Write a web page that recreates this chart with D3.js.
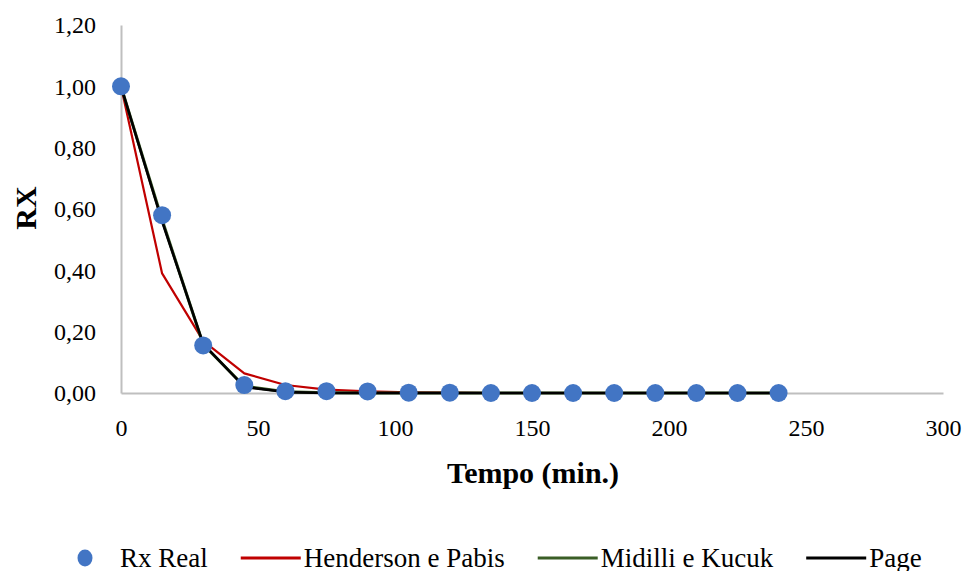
<!DOCTYPE html>
<html>
<head>
<meta charset="utf-8">
<script src="https://cdn.jsdelivr.net/npm/d3@7"></script>
<style>
  html, body { margin: 0; padding: 0; background: #fff; }
  svg text { font-family: "Liberation Serif", "Times New Roman", Times, "DejaVu Serif", serif !important; }
</style>
</head>
<body>
<svg id="chart" width="968" height="571"></svg>
<script>
const tempo = [0, 15, 30, 45, 60, 75, 90, 105, 120, 135, 150, 165, 180, 195, 210, 225, 240];
const rxReal = [1.00, 0.58, 0.155, 0.026, 0.006, 0.006, 0.005, 0.001, 0.001, 0.0, 0.0, 0.0, 0.0, 0.0, 0.0, 0.0, 0.0];
const henderson = [1.00, 0.39, 0.17, 0.064, 0.026, 0.011, 0.005, 0.002, 0.001, 0.0, 0.0, 0.0, 0.0, 0.0, 0.0, 0.0, 0.0];
const midilli = [1.00, 0.565, 0.158, 0.022, 0.004, 0.001, 0.0, 0.0, 0.0, 0.0, 0.0, 0.0, 0.0, 0.0, 0.0, 0.0, 0.0];
const page = [1.00, 0.56, 0.16, 0.02, 0.003, 0.0, 0.0, 0.0, 0.0, 0.0, 0.0, 0.0, 0.0, 0.0, 0.0, 0.0, 0.0];
const xTicks = [0, 50, 100, 150, 200, 250, 300];
const yTicks = [0, 0.2, 0.4, 0.6, 0.8, 1.0, 1.2];
const seriesNames = ["Rx Real", "Henderson e Pabis", "Midilli e Kucuk", "Page"];
const seriesColors = ["#4275C4", "#C00000", "#3A5E26", "#000000"];

const svg = d3.select("#chart");
const x = d3.scaleLinear().domain([0, 300]).range([121, 943]);
const y = d3.scaleLinear().domain([0, 1.2]).range([393, 25]);
const fmt = v => d3.format(".2f")(v).replace(".", ",");

// axes
const xAxis = svg.append("g").attr("transform", `translate(0,${y(0)})`)
  .call(d3.axisBottom(x).tickValues(xTicks).tickSize(0).tickPadding(26).tickFormat(d3.format("d")));
xAxis.attr("font-family", null);
xAxis.select(".domain").attr("stroke", "#BFBFBF").attr("stroke-width", 2);
xAxis.selectAll("text").attr("font-size", 24).attr("fill", "#000");

const yAxis = svg.append("g").attr("transform", `translate(${x(0)},0)`)
  .call(d3.axisLeft(y).tickValues(yTicks).tickSize(0).tickPadding(25).tickFormat(fmt));
yAxis.attr("font-family", null);
yAxis.select(".domain").attr("stroke", "#BFBFBF").attr("stroke-width", 2);
yAxis.selectAll("text").attr("font-size", 24).attr("fill", "#000");

// axis titles
svg.append("text").attr("x", 533).attr("y", 483).attr("text-anchor", "middle")
  .attr("font-size", 30).attr("font-weight", "bold").text("Tempo (min.)");
svg.append("text").attr("transform", "translate(36,208) rotate(-90)").attr("text-anchor", "middle")
  .attr("font-size", 30).attr("font-weight", "bold").text("RX");

// lines
const line = d3.line().x((d, i) => x(tempo[i])).y(d => y(d));
const lineData = [[henderson, seriesColors[1], 2.2], [midilli, seriesColors[2], 3], [page, seriesColors[3], 2.6]];
lineData.forEach(([data, color, w]) => {
  svg.append("path").datum(data).attr("d", line).attr("fill", "none")
    .attr("stroke", color).attr("stroke-width", w).attr("stroke-linejoin", "round");
});

// points
svg.append("g").selectAll("circle").data(rxReal).join("circle")
  .attr("cx", (d, i) => x(tempo[i])).attr("cy", d => y(d)).attr("r", 9)
  .attr("fill", seriesColors[0]);

// legend
const lg = svg.append("g");
let cx = 85;
const ly = 558;
seriesNames.forEach((name, i) => {
  let tx;
  if (i === 0) {
    lg.append("ellipse").attr("cx", cx).attr("cy", ly).attr("rx", 7.5).attr("ry", 8.5).attr("fill", seriesColors[0]);
    tx = cx + 35;
  } else {
    lg.append("line").attr("x1", cx).attr("x2", cx + 60).attr("y1", ly).attr("y2", ly)
      .attr("stroke", seriesColors[i]).attr("stroke-width", 3);
    tx = cx + 63;
  }
  const t = lg.append("text").attr("x", tx).attr("y", ly + 9).attr("font-size", 27).text(name);
  cx = tx + t.node().getComputedTextLength() + 33;
});
</script>
</body>
</html>
